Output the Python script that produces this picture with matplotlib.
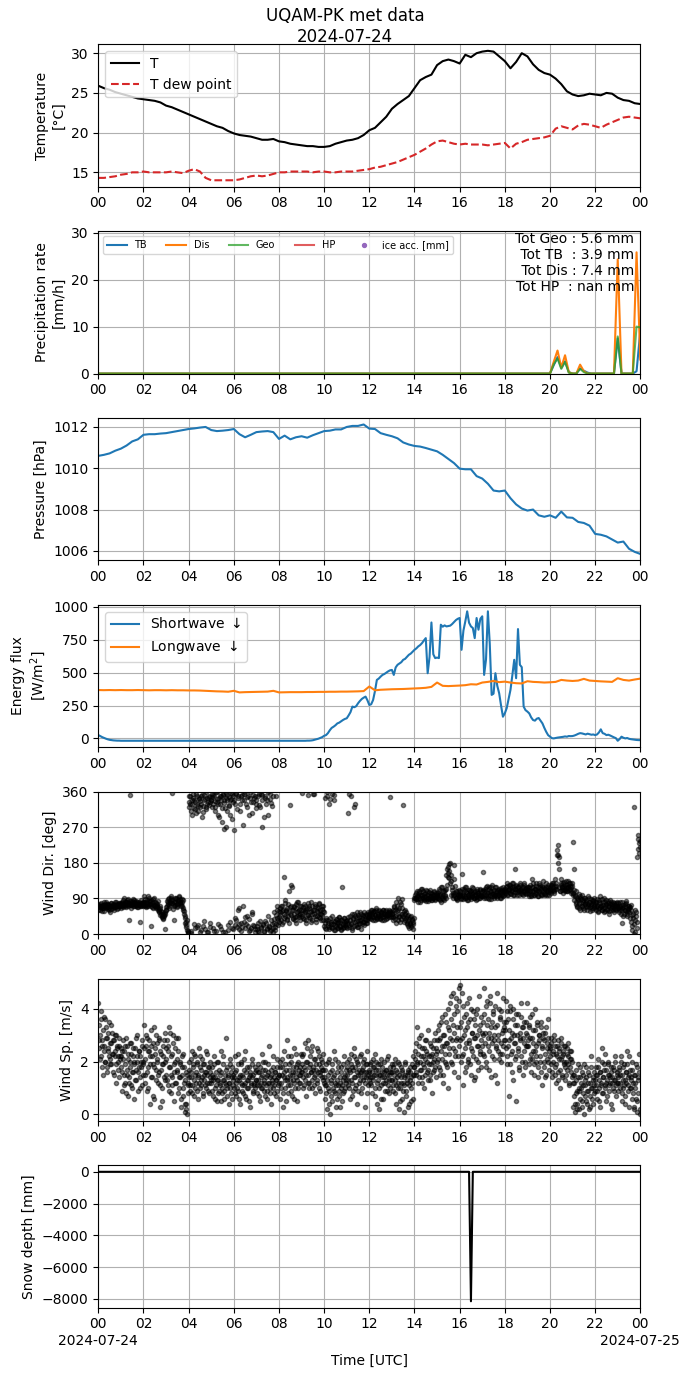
import numpy as np
import pandas as pd
import matplotlib
matplotlib.use("Agg")
import matplotlib.pyplot as plt
import matplotlib.dates as mdates
from matplotlib.ticker import FuncFormatter

# ---------------- data ----------------
day0 = "2024-07-24 00:00"
day1 = "2024-07-25 00:00"

# 15-min temperature (°C)
T_air = [25.9,25.6,25.4,25.1, 24.9,24.7,24.5,24.3, 24.2,24.1,24.0,23.8, 23.4,23.2,22.9,22.6,
         22.3,22.0,21.7,21.4, 21.1,20.8,20.6,20.2, 19.9,19.7,19.6,19.5, 19.3,19.1,19.1,19.2,
         18.9,18.8,18.6,18.5, 18.4,18.3,18.3,18.2, 18.2,18.3,18.6,18.8, 19.0,19.1,19.3,19.7,
         20.3,20.6,21.3,22.0, 23.0,23.6,24.1,24.6, 25.6,26.6,27.0,27.3, 28.5,29.0,29.2,29.0,
         28.7,29.8,29.5,30.0, 30.2,30.3,30.2,29.6, 29.0,28.1,28.9,30.0, 29.6,28.6,27.9,27.5,
         27.3,26.8,26.1,25.2, 24.8,24.6,24.7,24.9, 24.8,24.7,25.0,24.9, 24.4,24.1,24.0,23.7, 23.6]
T_dew = [14.3,14.3,14.4,14.5, 14.7,14.8,15.0,15.0, 15.1,15.0,15.0,15.0, 15.0,15.1,15.0,14.9,
         15.2,15.4,15.1,14.3, 14.0,14.0,14.0,14.0, 14.0,14.1,14.3,14.5, 14.6,14.5,14.6,14.8,
         15.0,15.0,15.1,15.1, 15.1,15.1,15.0,15.1, 15.1,15.0,15.0,15.1, 15.1,15.1,15.2,15.3,
         15.4,15.6,15.7,15.9, 16.1,16.3,16.6,16.9, 17.2,17.6,18.0,18.5, 18.9,19.0,18.8,18.6,
         18.5,18.6,18.5,18.5, 18.5,18.4,18.5,18.6, 18.7,18.0,18.6,18.8, 19.1,19.2,19.3,19.4,
         19.6,20.5,20.8,20.6, 20.4,20.9,21.1,21.0, 20.8,20.6,21.0,21.3, 21.6,21.9,22.0,21.9, 21.8]

# 10-min precipitation rates (mm/h); zero until 20:00, then values 20:00 .. 24:00
precip_zero_part = [0.0] * 120
precip_TB_tail  = [0.0,1.8,3.5,1.2,2.6,0.3, 0.0,0.0,1.1,0.6,0.2,0.0, 0.0,0.0,0.0,0.0,0.0,0.0,
                   7.5,0.0,0.0,0.0,0.0,0.5, 9.0]
precip_Dis_tail = [0.0,2.5,4.9,1.3,3.9,0.3, 0.0,0.0,1.9,0.5,0.0,0.0, 0.0,0.0,0.0,0.0,0.0,0.0,
                   24.3,0.0,0.0,0.0,0.0,25.8, 3.0]
precip_Geo_tail = [0.0,2.0,3.2,1.0,2.5,0.2, 0.0,0.0,1.0,0.3,0.0,0.0, 0.0,0.0,0.0,0.0,0.0,0.0,
                   7.9,0.0,0.0,0.0,0.0,10.0, 9.8]
precip_HP = []
tot_text = "Tot Geo : 5.6 mm\n Tot TB  : 3.9 mm\n Tot Dis : 7.4 mm\nTot HP  : nan mm"

# 15-min pressure (hPa)
pressure = [1010.60,1010.65,1010.72,1010.85, 1010.95,1011.10,1011.30,1011.40,
            1011.62,1011.65,1011.65,1011.68, 1011.70,1011.75,1011.80,1011.85,
            1011.90,1011.93,1011.97,1012.00, 1011.85,1011.80,1011.82,1011.85,
            1011.90,1011.65,1011.50,1011.62, 1011.75,1011.78,1011.80,1011.75,
            1011.42,1011.58,1011.40,1011.50, 1011.55,1011.48,1011.60,1011.70,
            1011.80,1011.82,1011.88,1011.88, 1012.00,1012.05,1012.05,1012.12,
            1011.92,1011.90,1011.70,1011.62, 1011.55,1011.45,1011.25,1011.15,
            1011.08,1011.05,1010.98,1010.90, 1010.82,1010.65,1010.45,1010.25,
            1009.98,1009.95,1009.95,1009.62, 1009.50,1009.25,1008.92,1008.88,
            1008.92,1008.55,1008.25,1008.05, 1007.95,1008.00,1007.72,1007.65,
            1007.72,1007.60,1007.90,1007.62, 1007.60,1007.40,1007.35,1007.22,
            1006.82,1006.78,1006.70,1006.55, 1006.40,1006.45,1006.10,1005.95, 1005.85]

# 5-min shortwave down (W/m2)
sw_down = [25,18,10,4,-2,-7,-11,-13,-15,-16,-17,-17,
           -18,-18,-18,-18,-18,-18,-18,-18,-18,-18,-18,-18,
           -18,-18,-18,-18,-18,-18,-18,-18,-18,-18,-18,-18,
           -18,-18,-18,-18,-18,-18,-18,-18,-18,-18,-18,-18,
           -18,-18,-18,-18,-18,-18,-18,-18,-18,-18,-18,-18,
           -18,-18,-18,-18,-18,-18,-18,-18,-18,-18,-18,-18,
           -18,-18,-18,-18,-18,-18,-18,-18,-18,-18,-18,-18,
           -18,-18,-18,-18,-18,-18,-18,-18,-18,-18,-18,-18,
           -18,-18,-18,-18,-18,-18,-18,-18,-18,-18,-18,-18,
           -18,-18,-18,-17,-17,-16,-14,-10,-6,-2,4,10,
           20,25,40,62,80,89,100,114,120,130,140,148,
           153,175,200,242,237,245,267,285,300,310,318,290,
           254,260,292,360,445,455,470,483,490,500,510,518,
           521,483,540,560,570,580,598,605,620,636,645,660,
           674,685,700,710,725,745,763,496,620,882,640,611,
           615,611,865,850,860,852,855,858,870,885,900,910,
           916,674,820,890,967,880,852,840,763,916,827,910,
           929,483,600,967,720,331,340,496,400,343,250,165,
           191,230,300,369,480,598,458,832,560,542,242,215,
           204,190,160,140,135,150,155,135,114,80,50,25,
           13,2,0,3,6,8,10,12,15,13,18,17,
           18,22,28,35,40,38,34,30,36,32,28,30,
           25,30,45,69,40,35,25,28,22,15,8,2,
           -18,-5,13,5,0,3,-3,-6,-8,-10,-12,-13,
           -13]

# 15-min longwave down (W/m2)
lw_down = [368,367,368,367, 368,367,367,368, 367,366,367,367, 366,367,366,366,
           365,365,364,362, 360,358,357,355, 362,350,352,353, 354,355,356,362,
           350,351,352,352, 352,353,353,354, 354,355,355,356, 356,357,358,360,
           395,366,370,372, 374,375,376,378, 380,382,385,392, 425,400,398,400,
           402,405,412,410, 425,430,437,428, 432,425,420,418, 435,430,428,425,
           427,430,445,440, 437,440,453,440, 437,434,432,430, 458,445,440,448, 455]

# wind direction (deg), one row per hour, samples at even minutes (a) and odd minutes (b)
wind_dir_a = [
 [62,70,75,68,72,58,66,74,80,71,65,69,77,73,60,55,70,78,72,66,74,68,81,75,70,64,72,79,74,76],
 [72,78,70,85,74,80,76,69,82,88,75,35,352,73,79,84,71,77,86,80,74,68,82,77,73,79,30,70,76,81],
 [78,95,72,80,86,70,75,92,83,76,20,69,81,88,74,70,79,66,72,84,64,58,70,50,45,55,40,48,14,52],
 [60,72,80,88,65,78,92,85,356,75,70,35,82,90,76,68,84,95,79,88,72,80,66,85,58,45,30,22,10,4],
 [350,320,330,8,340,300,345,25,315,335,355,18,325,310,342,4,330,348,297,20,338,352,12,322,345,330,6,350,335,28],
 [340,355,330,15,348,320,8,335,358,300,345,20,328,350,284,352,5,340,318,356,270,338,10,347,325,30,342,290,355,12],
 [263,330,40,355,18,345,60,25,310,350,8,338,72,30,355,15,328,45,347,20,300,358,10,335,50,352,22,343,5,318],
 [340,12,28,355,5,320,18,352,271,25,8,345,32,330,15,300,358,20,342,10,35,325,4,28,55,18,350,40,62,22],
 [30,55,48,70,25,62,145,40,78,58,35,66,45,110,327,52,72,120,38,60,68,42,75,28,55,80,48,62,35,70],
 [45,356,60,38,72,55,28,66,352,48,70,40,58,80,35,62,355,52,75,30,68,45,56,78,40,62,50,72,36,58],
 [20,345,12,35,358,28,18,330,40,25,355,15,32,340,22,10,38,28,15,30,42,20,12,35,119,25,18,40,28,32],
 [15,35,306,22,45,28,350,10,38,52,20,330,32,42,18,48,25,55,35,12,40,30,48,22,45,35,52,28,40,50],
 [45,55,38,62,50,42,58,35,48,65,40,52,45,60,38,55,48,42,62,50,35,58,45,52,40,48,60,347,55,42],
 [50,62,35,70,45,80,28,58,90,42,65,30,75,50,88,326,40,62,35,55,28,48,20,38,25,45,18,35,30,92],
 [85,100,92,110,88,96,105,82,115,98,90,108,86,102,94,112,88,99,84,106,95,90,104,87,100,92,110,85,97,103],
 [92,105,88,115,98,82,120,95,108,86,100,112,90,125,145,170,160,180,150,135,118,98,175,140,105,92,110,88,100,95],
 [98,110,88,153,102,95,115,90,106,120,85,100,112,94,108,88,118,96,104,92,110,100,86,115,98,105,92,112,100,96],
 [95,158,108,90,115,100,122,92,105,118,98,88,110,125,102,95,112,100,120,92,108,98,115,105,90,112,100,118,95,108],
 [110,120,105,128,98,115,112,125,102,118,108,130,100,164,115,122,106,118,112,98,125,108,115,102,120,110,128,105,116,112],
 [105,118,95,125,110,100,140,108,120,98,115,128,102,112,96,130,108,118,100,122,110,135,104,115,98,120,108,112,125,100],
 [112,125,105,130,118,108,138,115,122,212,200,179,195,110,128,140,118,105,132,120,112,135,125,108,118,130,115,122,110,128],
 [105,233,164,95,80,110,72,88,102,65,90,78,98,70,85,60,92,75,82,68,95,72,80,58,88,76,65,84,70,90],
 [75,62,88,70,55,82,68,95,72,60,80,66,90,58,74,85,64,78,52,70,86,62,76,68,82,56,72,64,78,70],
 [65,78,55,72,60,80,29,68,50,75,62,84,45,70,58,66,40,74,62,20,52,0,322,35,55,15,196,250,230,220],
]
wind_dir_b = [
 [68,74,60,78,70,65,73,58,76,69,82,71,63,75,67,72,79,64,70,76,61,73,68,80,72,66,75,70,78,67],
 [75,82,68,77,90,72,80,74,86,70,78,83,73,65,81,76,88,72,79,70,84,75,68,80,77,72,86,74,79,71],
 [82,74,88,68,79,96,72,84,76,70,86,78,65,90,74,80,68,76,72,62,55,66,48,58,42,52,38,46,55,60],
 [68,84,75,90,70,82,95,78,86,64,80,92,74,88,70,85,78,94,82,76,88,70,62,52,40,28,18,35,8,2],
 [335,348,312,2,328,355,318,340,15,305,350,330,22,345,320,336,10,352,308,325,32,342,358,315,5,333,347,326,18,340],
 [346,322,352,8,336,312,358,342,26,328,295,350,12,338,318,354,265,332,4,345,310,352,22,326,340,300,356,16,334,348],
 [340,22,356,35,315,348,12,65,330,28,352,18,275,340,42,358,25,322,350,8,38,345,15,305,56,335,20,350,12,328],
 [20,348,8,326,32,355,15,340,22,295,5,350,28,12,338,45,18,355,8,332,25,15,350,38,10,48,25,70,35,58],
 [42,65,35,58,72,30,50,85,45,62,38,75,55,28,68,48,125,60,40,72,52,35,65,45,80,58,42,70,50,62],
 [52,68,40,75,58,35,62,48,78,42,65,55,30,70,50,354,60,45,72,38,58,66,42,75,52,35,64,48,70,55],
 [28,15,40,350,22,35,12,342,30,18,45,25,10,352,32,20,38,15,28,42,18,30,10,36,24,15,40,22,32,18],
 [28,42,18,355,35,25,50,15,40,320,30,45,22,55,32,18,42,28,50,35,25,45,30,55,38,28,48,35,55,42],
 [50,40,62,45,55,35,58,48,42,62,38,52,45,58,40,55,50,35,60,45,52,38,62,48,55,42,50,58,45,52],
 [55,42,68,38,60,48,72,35,62,45,80,52,38,66,45,58,30,52,40,25,45,32,15,42,28,22,38,12,25,40],
 [92,88,105,95,82,110,90,100,86,98,115,92,88,104,96,84,108,92,100,88,112,95,86,102,90,98,106,88,94,100],
 [98,90,110,85,102,118,92,100,88,108,95,115,150,165,155,142,178,128,100,112,90,105,98,122,92,108,86,100,112,95],
 [102,92,115,100,88,108,96,120,92,104,100,86,112,98,108,94,102,116,90,106,100,94,110,88,104,98,115,92,100,108],
 [100,112,96,108,118,92,104,100,115,88,108,120,96,102,110,92,118,100,106,95,112,104,98,110,92,116,102,108,98,112],
 [115,108,122,100,112,125,104,118,110,128,98,115,120,106,112,124,100,118,108,130,112,104,120,110,98,124,108,115,102,118],
 [112,102,120,108,95,118,110,128,100,115,104,122,110,96,118,108,125,102,114,98,120,108,116,102,128,110,100,118,106,114],
 [118,108,125,112,130,105,120,128,115,200,225,165,118,108,125,112,120,130,115,108,125,118,110,135,120,112,128,118,105,122],
 [98,112,85,100,75,92,68,85,78,95,62,88,72,80,66,92,78,70,85,62,75,90,68,82,72,60,78,86,65,80],
 [68,80,72,58,85,65,78,70,62,88,74,56,80,68,75,62,84,70,58,76,66,80,72,60,78,68,74,62,80,66],
 [72,60,68,80,52,66,74,45,62,70,58,78,50,64,72,55,68,30,48,10,40,25,60,5,45,30,240,215,205,235],
]

# wind speed (m/s), one row per hour, samples at even minutes (a) and odd minutes (b)
wind_sp_a = [
 [4.2,2.5,3.0,2.2,3.6,2.8,1.5,2.6,3.7,2.0,3.3,1.8,2.9,2.4,3.5,2.1,1.9,2.7,3.1,2.3,1.6,2.8,2.2,3.0,1.2,2.5,2.0,2.6,1.4,2.2],
 [1.8,2.4,0.9,2.1,1.5,2.6,1.2,2.9,1.7,0.7,2.3,1.4,2.0,1.1,2.7,1.6,2.2,0.6,1.9,2.5,1.3,2.0,3.0,1.6,2.4,1.0,2.2,1.8,2.8,1.5],
 [2.0,3.4,1.5,2.6,0.9,2.9,1.8,2.4,0.4,2.2,3.2,1.4,2.7,1.9,0.6,2.5,1.7,3.0,2.1,1.2,2.8,1.6,0.3,2.3,1.9,1.0,2.6,1.4,2.0,3.1],
 [1.5,2.8,1.1,2.4,3.3,1.8,0.8,2.2,1.4,3.0,1.9,0.5,2.5,1.2,2.1,1.6,2.9,1.0,2.0,1.4,0.3,1.8,2.3,0.7,1.2,0.1,0.4,1.6,0.0,1.1],
 [1.4,2.0,0.9,1.6,2.4,1.1,1.8,0.7,1.5,2.2,1.2,1.9,0.6,1.4,2.5,1.0,1.7,1.3,2.1,0.8,1.5,1.9,1.1,1.6,2.3,1.2,0.9,1.8,1.4,2.0],
 [1.2,1.8,0.7,1.4,2.2,1.0,1.6,0.5,1.3,2.0,0.9,1.5,1.1,2.4,0.8,1.3,1.9,0.6,1.2,1.7,2.9,1.0,1.5,0.4,1.2,2.1,0.8,1.4,1.8,1.1],
 [1.0,1.6,2.2,0.7,1.3,1.9,0.9,1.4,0.4,1.2,2.0,1.5,0.8,1.7,1.1,2.4,0.6,1.3,1.8,1.0,1.4,0.3,1.6,1.2,2.1,0.9,1.5,1.1,1.8,1.3],
 [1.3,0.8,1.9,1.1,1.6,0.5,1.4,2.3,1.0,1.7,1.2,0.7,2.0,1.4,0.9,1.6,1.2,2.6,1.0,1.5,0.4,1.3,1.8,1.1,0.8,1.6,1.3,2.1,0.9,1.4],
 [1.5,0.6,2.0,1.2,1.8,0.3,1.4,2.4,1.0,1.7,2.8,1.3,0.8,1.9,1.5,1.1,2.2,0.7,1.6,1.3,2.5,1.0,1.8,1.4,0.5,2.0,1.2,1.7,1.5,2.3],
 [1.6,2.2,1.0,1.8,2.7,1.3,0.7,2.0,1.5,2.8,1.2,1.9,1.6,2.4,1.0,1.7,2.1,1.4,0.8,1.9,2.5,1.2,1.6,2.2,1.5,0.9,1.8,2.0,1.3,1.7],
 [1.4,0.6,1.9,1.1,0.2,1.5,0.9,2.1,0.0,1.3,0.5,1.7,1.0,2.4,0.8,1.2,0.3,1.6,1.1,2.0,0.7,1.4,1.0,1.8,0.5,1.3,2.2,0.9,1.5,1.2],
 [1.5,2.0,1.1,1.7,0.6,2.3,1.3,1.8,0.9,2.5,1.4,1.0,2.1,1.6,0.4,1.9,1.2,2.2,1.5,0.8,1.7,2.0,1.3,1.6,0.3,1.9,1.4,2.4,1.1,1.7],
 [1.6,1.2,2.0,1.4,0.8,1.8,1.5,2.3,1.0,1.7,0.4,1.3,1.9,0.2,1.5,2.1,1.1,1.6,0.6,1.4,2.0,1.2,1.7,0.9,1.5,2.2,1.3,1.8,1.0,1.6],
 [1.3,1.8,0.9,1.5,2.1,1.1,0.4,1.6,1.2,0.2,1.9,1.0,1.4,0.6,1.7,1.2,0.1,1.5,2.0,0.9,1.3,0.3,1.6,1.1,1.8,0.5,1.4,1.2,2.2,1.5],
 [1.8,2.4,1.5,2.0,3.3,1.2,2.6,1.7,2.2,3.0,1.4,1.9,2.5,1.0,2.1,2.8,1.6,2.3,1.3,1.9,2.7,1.5,2.2,0.8,2.0,2.5,1.7,3.1,1.4,2.3],
 [2.4,3.2,1.8,2.8,1.5,3.5,2.1,2.6,1.2,3.0,2.3,3.8,1.9,2.7,1.0,3.3,2.5,4.2,2.0,3.6,2.8,4.6,1.6,3.1,2.4,4.4,2.9,3.9,2.2,4.8],
 [4.9,2.8,3.5,2.2,4.1,1.1,3.0,2.5,3.8,1.8,3.3,2.0,4.4,2.7,3.6,1.5,3.1,2.4,3.9,1.3,2.9,3.4,2.1,4.0,2.6,1.7,3.2,2.3,3.7,2.8],
 [2.6,3.5,4.8,2.2,3.1,1.8,4.3,2.9,3.6,2.4,4.5,1.4,3.3,2.7,3.9,2.1,3.0,4.1,2.5,1.2,3.4,2.8,4.0,2.3,3.7,2.0,3.1,4.4,2.6,3.3],
 [3.2,2.5,4.3,1.9,3.6,2.8,0.7,3.9,2.3,3.1,1.6,4.0,2.7,3.4,2.1,0.5,3.0,2.4,3.8,1.8,2.9,4.2,2.2,3.3,1.5,2.7,3.5,2.0,3.1,2.6],
 [4.2,2.8,3.4,2.1,3.7,1.6,2.9,2.4,3.2,1.9,4.0,2.6,2.2,3.5,1.4,2.8,3.0,2.0,3.3,1.1,2.5,2.9,1.8,3.1,2.3,1.5,2.7,3.6,2.0,2.4],
 [2.5,1.9,2.9,1.4,2.3,3.0,1.8,2.6,1.2,2.2,2.8,1.6,2.4,1.0,2.1,2.7,1.5,2.3,1.9,2.6,1.3,2.0,2.5,1.7,2.2,1.1,2.4,1.8,2.1,1.4],
 [1.2,0.3,1.5,0.1,0.8,1.3,0.4,1.9,0.9,0.2,1.4,1.0,0.5,1.6,1.1,0.0,1.3,0.7,1.8,0.4,1.2,0.9,1.5,0.3,1.0,2.2,0.6,1.4,0.8,1.1],
 [1.3,1.8,0.6,1.5,2.1,1.0,0.3,1.6,1.2,2.5,0.8,1.4,1.9,1.1,0.5,1.7,1.3,2.0,0.9,1.5,1.2,1.8,0.2,1.4,1.0,1.7,1.3,2.2,0.7,1.5],
 [1.4,0.9,1.8,1.2,2.2,0.5,1.5,1.0,1.9,1.3,0.7,1.6,2.4,1.1,1.4,0.3,1.7,1.0,1.3,2.0,0.8,1.5,0.2,1.2,0.6,1.8,0.1,1.4,2.3,0.0],
]
wind_sp_b = [
 [3.4,2.8,2.1,3.9,2.6,1.8,3.2,2.4,2.0,3.6,2.9,1.6,2.5,3.1,2.2,2.7,1.9,3.4,2.3,2.8,1.5,2.4,3.0,1.9,2.6,2.2,1.7,2.9,2.1,2.5],
 [2.2,1.6,2.8,1.1,2.4,1.9,0.8,2.6,1.5,2.1,1.2,2.7,1.8,2.3,1.0,2.5,1.6,2.0,1.3,2.9,1.7,2.2,0.9,1.8,2.4,1.4,2.0,1.1,2.6,1.9],
 [2.5,1.2,2.1,3.0,1.6,2.4,1.0,2.8,1.9,1.4,2.6,2.2,0.7,3.3,1.8,2.3,1.3,2.7,2.0,1.5,2.9,1.1,2.4,1.7,0.5,2.2,1.9,2.8,1.3,2.5],
 [2.1,1.3,2.6,1.8,0.9,3.1,1.5,2.3,1.1,2.7,1.6,2.0,1.2,2.9,1.7,0.8,2.4,1.4,1.9,0.6,2.2,1.5,1.0,1.8,0.4,1.3,0.2,1.5,0.8,1.2],
 [1.7,1.1,2.1,1.4,0.8,1.9,1.3,2.3,1.0,1.6,2.0,0.9,1.5,1.2,1.8,2.2,1.1,1.4,0.7,1.9,1.3,1.6,2.4,1.0,1.5,1.8,1.2,0.8,1.6,1.3],
 [1.5,0.9,1.3,1.9,0.6,1.4,1.1,2.0,1.3,0.8,1.7,1.2,0.5,1.6,1.0,2.2,1.3,0.9,1.5,1.1,1.8,0.7,1.4,1.2,1.9,1.0,1.6,0.6,1.3,1.5],
 [1.4,0.8,1.2,1.7,1.0,2.3,1.3,0.6,1.5,1.9,1.1,0.9,1.4,2.1,1.2,0.7,1.6,1.0,1.3,1.8,0.5,1.5,1.1,1.9,1.4,0.8,1.2,1.6,1.0,1.7],
 [1.1,1.6,1.3,0.7,1.8,1.2,1.0,1.5,2.0,0.9,1.3,1.7,1.1,0.6,1.5,1.9,1.2,1.4,0.8,1.7,1.2,2.2,1.0,1.4,1.6,0.7,1.3,1.8,1.1,1.5],
 [1.2,1.8,1.0,1.5,2.1,0.8,1.6,1.3,1.9,0.5,1.4,2.2,1.1,1.7,1.3,2.0,0.9,1.5,1.8,1.2,0.6,1.6,2.3,1.3,1.9,1.0,1.5,1.8,1.2,1.6],
 [1.9,1.4,2.3,1.1,1.7,2.0,1.5,2.5,1.2,1.8,1.0,2.2,1.6,1.3,2.6,1.8,1.1,1.5,2.1,1.7,1.3,2.4,1.9,1.0,1.6,2.1,1.4,1.7,2.3,1.2],
 [1.1,1.7,0.8,1.3,2.0,1.0,0.4,1.6,1.2,0.7,1.9,1.4,0.9,1.5,2.1,1.1,0.6,1.3,1.8,0.9,1.2,0.3,1.6,1.1,1.9,0.8,1.4,1.0,1.7,1.3],
 [1.8,1.3,2.1,1.0,1.6,1.9,1.2,0.7,1.7,2.2,1.4,1.8,1.1,2.0,1.5,0.9,1.7,1.3,2.3,1.6,1.0,1.8,1.4,2.1,1.2,1.6,0.8,1.9,1.5,1.3],
 [1.4,1.9,1.1,1.6,2.1,1.3,1.8,0.7,1.5,2.0,1.2,1.7,1.0,1.5,1.9,0.6,1.4,1.8,1.2,1.6,0.9,1.7,1.3,2.1,1.1,1.5,0.8,1.6,1.3,1.9],
 [1.6,1.1,1.9,1.3,0.8,1.7,1.4,2.0,1.0,1.5,0.5,1.8,1.2,1.6,0.9,1.4,1.1,1.9,0.7,1.5,1.2,1.7,0.4,1.3,1.6,1.0,1.9,0.6,1.5,1.8],
 [2.1,1.6,2.7,1.9,2.3,1.4,2.9,2.0,1.7,2.5,1.2,2.2,1.8,2.8,1.5,2.4,2.0,3.2,1.7,2.2,1.3,2.6,1.9,2.3,1.6,2.8,2.1,1.8,2.5,2.0],
 [2.8,2.1,3.4,1.7,2.9,2.4,3.7,1.5,3.0,2.6,2.0,3.5,2.7,1.8,4.0,2.3,3.2,2.9,4.5,1.9,3.4,2.5,3.8,2.2,4.1,2.8,3.3,1.4,4.3,2.6],
 [3.3,2.0,4.6,2.9,2.3,3.7,1.6,3.2,2.7,4.2,2.1,3.5,2.8,1.9,4.0,2.5,3.1,2.2,3.6,2.9,1.4,3.8,2.6,3.0,2.0,4.5,2.4,3.4,1.8,3.1],
 [3.0,2.3,3.8,2.7,4.1,2.0,3.4,2.6,3.1,1.7,4.2,2.9,3.5,2.2,3.8,2.8,1.5,3.3,2.6,4.6,2.4,3.0,2.1,3.6,2.7,3.9,2.3,3.2,2.8,3.5],
 [2.8,3.5,2.2,3.9,2.6,3.2,1.9,4.1,2.9,2.4,3.6,1.3,3.0,2.7,3.8,2.2,3.4,2.5,1.7,3.1,2.8,3.7,2.0,2.9,3.3,2.4,1.8,3.5,2.6,3.0],
 [2.6,3.3,1.9,2.9,2.3,3.8,2.1,2.7,1.5,3.2,2.4,2.0,3.4,2.7,1.8,3.0,2.2,3.5,1.6,2.6,3.1,2.0,2.8,1.4,3.3,2.5,2.1,2.9,1.7,2.6],
 [2.2,2.7,1.6,2.4,2.0,2.8,1.5,2.3,1.9,2.6,1.3,2.1,2.5,1.7,2.9,2.2,1.4,2.4,2.0,1.8,2.6,1.5,2.3,1.9,2.7,1.2,2.1,2.4,1.6,2.0],
 [1.5,0.7,1.2,0.4,1.7,0.9,0.2,1.4,1.0,1.8,0.6,1.2,0.3,1.5,0.8,1.9,1.1,0.5,1.4,0.9,1.6,0.2,1.2,0.7,1.8,1.0,0.4,1.3,1.6,0.9],
 [1.1,1.5,0.9,1.8,1.3,0.5,1.6,1.1,2.0,0.8,1.4,1.7,1.0,2.3,1.2,0.7,1.5,1.9,1.1,1.4,0.4,1.6,1.2,1.8,0.9,1.3,2.0,1.1,1.6,1.2],
 [1.2,1.7,1.0,1.5,2.0,0.8,1.3,1.8,1.1,0.4,1.6,1.2,1.9,0.9,1.5,2.2,1.0,1.4,0.6,1.7,1.2,0.3,1.5,1.0,1.9,0.5,1.3,0.8,1.6,0.2],
]

# 5-min snow depth (mm): flat 0 with one bad sample at 16:30
snow_before = [0.0] * 198
snow_spike = [-8150.0]
snow_after = [0.0] * 90

date_labels = ["2024-07-24", "2024-07-25"]

# ---------------- time axes ----------------
t15 = pd.date_range(day0, day1, freq="15min")
t10 = pd.date_range(day0, day1, freq="10min")
t5 = pd.date_range(day0, day1, freq="5min")
t2a = pd.date_range(day0, periods=720, freq="2min")
t2b = pd.date_range("2024-07-24 00:01", periods=720, freq="2min")

precip_TB = precip_zero_part + precip_TB_tail
precip_Dis = precip_zero_part + precip_Dis_tail
precip_Geo = precip_zero_part + precip_Geo_tail
snow = snow_before + snow_spike + snow_after
wdir_a = np.concatenate([np.array(r, float) for r in wind_dir_a])
wdir_b = np.concatenate([np.array(r, float) for r in wind_dir_b])
wsp_a = np.concatenate([np.array(r, float) for r in wind_sp_a])
wsp_b = np.concatenate([np.array(r, float) for r in wind_sp_b])

# ---------------- figure ----------------
fig, axes = plt.subplots(7, 1, figsize=(6.9, 13.77), dpi=100)
fig.subplots_adjust(left=0.1425, right=0.928, top=0.9678, bottom=0.0503, hspace=0.312)
fig.suptitle("UQAM-PK met data\n2024-07-24", fontsize=12, y=0.995)

xmin, xmax = pd.Timestamp(day0), pd.Timestamp(day1)

ax = axes[0]
ax.plot(t15, T_air, color="k", lw=1.5, label="T")
ax.plot(t15, T_dew, color="tab:red", ls="--", lw=1.5, label="T dew point")
ax.set_ylabel("Temperature\n[°C]")
ax.legend(loc="upper left")

ax = axes[1]
ax.plot(t10, precip_TB, color="tab:blue", lw=1.5, label="TB")
ax.plot(t10, precip_Dis, color="tab:orange", lw=1.5, label="Dis")
ax.plot(t10, precip_Geo, color="tab:green", lw=1.5, alpha=0.75, label="Geo")
ax.plot(t10[:len(precip_HP)], precip_HP, color="tab:red", lw=1.5, alpha=0.75, label="HP")
ax.scatter([], [], color="tab:purple", s=8, label="ice acc. [mm]")
ax.set_ylim(0, 30.3)
ax.set_ylabel("Precipitation rate\n[mm/h]")
ax.legend(loc="upper left", ncol=5, fontsize=7)
ax.text(0.989, 0.995, tot_text, transform=ax.transAxes, ha="right", va="top",
        multialignment="right", fontsize=10)

ax = axes[2]
ax.plot(t15, pressure, color="tab:blue", lw=1.5)
ax.set_ylabel("Pressure [hPa]")

ax = axes[3]
ax.plot(t5, sw_down, color="tab:blue", lw=1.5, label="Shortwave $\\downarrow$")
ax.plot(t15, lw_down, color="tab:orange", lw=1.5, label="Longwave $\\downarrow$")
ax.set_ylabel("Energy flux\n[W/m$^2$]")
ax.set_yticks([0, 250, 500, 750, 1000])
ax.legend(loc="upper left")

ax = axes[4]
ax.plot(t2a, wdir_a, "o", color="k", alpha=0.5, ms=3)
ax.plot(t2b, wdir_b, "o", color="k", alpha=0.5, ms=3)
ax.set_ylim(0, 360)
ax.set_yticks([0, 90, 180, 270, 360])
ax.set_ylabel("Wind Dir. [deg]")

ax = axes[5]
ax.plot(t2a, wsp_a, "o", color="k", alpha=0.5, ms=3)
ax.plot(t2b, wsp_b, "o", color="k", alpha=0.5, ms=3)
ax.set_ylabel("Wind Sp. [m/s]")

ax = axes[6]
ax.plot(t5, snow, color="k", lw=1.5)
ax.set_ylabel("Snow depth [mm]")
ax.set_xlabel("Time [UTC]", labelpad=16)
for xd, lab in zip([xmin, xmax], date_labels):
    ax.annotate(lab, xy=(xd, 0), xycoords=("data", "axes fraction"),
                xytext=(0, -19), textcoords="offset points",
                ha="center", va="top", fontsize=10, annotation_clip=False)

for ax in axes:
    ax.set_xlim(xmin, xmax)
    ax.xaxis.set_major_locator(mdates.HourLocator(byhour=range(0, 24, 2)))
    ax.xaxis.set_major_formatter(mdates.DateFormatter("%H"))
    ax.grid(True)

fig.savefig("out.png", dpi=100)
